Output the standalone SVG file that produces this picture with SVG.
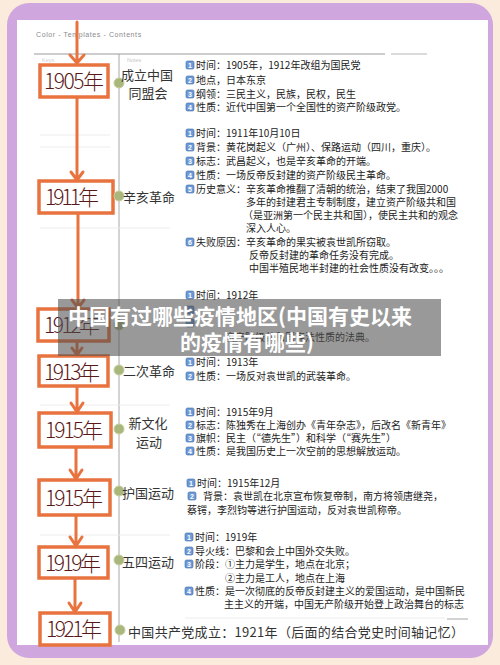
<svg xmlns="http://www.w3.org/2000/svg" width="500" height="665" viewBox="0 0 500 665">
<defs>
<style>
.cn{font-family:"Noto Sans CJK SC","Noto Sans",sans-serif}
.yr{font-family:"Noto Sans CJK SC","Liberation Sans",sans-serif;font-size:21px;font-weight:300;fill:#5a1818;text-anchor:middle}
.box{fill:#fff;stroke:#e8733f;stroke-width:3.5}
.key{font-family:"Noto Sans CJK SC",sans-serif;font-size:13px;fill:#333}
.nt{font-family:"Noto Sans CJK SC",sans-serif;font-size:10px;fill:#222}
.ic{fill:#6d9ad6;stroke:#3d6aa8;stroke-width:0.6}
.icn{font-family:"Liberation Sans",sans-serif;font-size:7px;font-weight:bold;fill:#fff;text-anchor:middle}
.dot{fill:#a9b67c;stroke:#c5cf9f;stroke-width:1}
.arr{fill:none;stroke:#e8733f;stroke-width:3;stroke-linecap:round;stroke-linejoin:round}
.faint{stroke:#ececec;stroke-width:1}
</style>
</defs>
<rect x="0" y="0" width="500" height="665" fill="#fbebdd"/>
<rect x="7" y="3" width="486" height="655" rx="22" fill="#cfa6de"/>
<rect x="17" y="20" width="471" height="625" fill="#ffffff"/>

<text x="36" y="37" font-family="Liberation Sans, sans-serif" font-size="7" letter-spacing="0.6" fill="#8a8a8a">Color - Templates - Contents</text>
<line x1="34" y1="54" x2="385" y2="54" stroke="#9a9a9a" stroke-width="1"/>
<line x1="391" y1="54" x2="427" y2="54" stroke="#b5b5b5" stroke-width="1"/>
<text x="42" y="61.5" font-family="Liberation Sans, sans-serif" font-size="5.5" fill="#d0d0d0">Keys</text>
<text x="127" y="61.5" font-family="Liberation Sans, sans-serif" font-size="5.5" fill="#c8c8c8">Notes</text>
<line x1="119" y1="54" x2="119" y2="642" stroke="#a8a8a8" stroke-width="1"/>

<g id="faint-lines">
<line class="faint" x1="40" y1="135" x2="110" y2="135"/>
<line class="faint" x1="40" y1="147" x2="110" y2="147"/>
<line class="faint" x1="40" y1="228" x2="170" y2="228"/>
<line class="faint" x1="40" y1="405" x2="170" y2="405"/>
<line class="faint" x1="40" y1="535" x2="170" y2="535"/>
<line class="faint" x1="185" y1="618" x2="445" y2="618"/>
<line x1="447" y1="619" x2="468" y2="619" stroke="#c4c4c4" stroke-width="1.5"/>
</g>

<g id="connectors">
<path class="arr" d="M77 22 V62 M70 55 L77 63 L84 55"/>
<path class="arr" d="M77 98 V179 M71 172 L77 180 L83 172"/>
<path class="arr" d="M78 214 V307 M72 300 L78 308 L84 300"/>
<path class="arr" d="M77 342 V354 M72 348 L77 355 L82 348"/>
<path class="arr" d="M77 387 V411 M71 403 L77 412 L83 403"/>
<path class="arr" d="M76 448 V478 M70 470 L76 479 L82 470"/>
<path class="arr" d="M76 516 V545 M70 537 L76 546 L82 537"/>
<path class="arr" d="M75 579 V611 M69 603 L75 612 L81 603"/>
</g>

<g id="n1905">
<rect class="box" x="40" y="65" width="68" height="32"/>
<text class="yr" x="74" y="89" textLength="60">1905年</text>
<circle class="dot" cx="119" cy="83" r="5"/>
<text class="key" x="147" y="80" text-anchor="middle">成立中国</text>
<text class="key" x="148" y="98" text-anchor="middle">同盟会</text>
<rect class="ic" x="186" y="61" width="8" height="8" rx="1.5"/><text class="icn" x="190" y="67.5">1</text>
<text class="nt" x="196" y="69">时间：1905年，1912年改组为国民党</text>
<rect class="ic" x="186" y="76" width="8" height="8" rx="1.5"/><text class="icn" x="190" y="82.5">2</text>
<text class="nt" x="196" y="84">地点，日本东京</text>
<rect class="ic" x="186" y="90" width="8" height="8" rx="1.5"/><text class="icn" x="190" y="96.5">3</text>
<text class="nt" x="196" y="98">纲领：三民主义，民族，民权，民生</text>
<rect class="ic" x="186" y="103" width="8" height="8" rx="1.5"/><text class="icn" x="190" y="109.5">4</text>
<text class="nt" x="196" y="111">性质：近代中国第一个全国性的资产阶级政党。</text>
</g>

<g id="n1911">
<rect class="box" x="39" y="181" width="74" height="32"/>
<text class="yr" x="72" y="205" textLength="54">1911年</text>
<circle class="dot" cx="119" cy="196" r="5"/>
<text class="key" x="123" y="202">辛亥革命</text>
<rect class="ic" x="186" y="129" width="8" height="8" rx="1.5"/><text class="icn" x="190" y="135.5">1</text>
<text class="nt" x="196" y="137">时间：1911年10月10日</text>
<rect class="ic" x="186" y="143" width="8" height="8" rx="1.5"/><text class="icn" x="190" y="149.5">2</text>
<text class="nt" x="196" y="151">背景：黄花岗起义（广州）、保路运动（四川，重庆）。</text>
<rect class="ic" x="186" y="157" width="8" height="8" rx="1.5"/><text class="icn" x="190" y="163.5">3</text>
<text class="nt" x="196" y="165">标志：武昌起义，也是辛亥革命的开端。</text>
<rect class="ic" x="186" y="171" width="8" height="8" rx="1.5"/><text class="icn" x="190" y="177.5">4</text>
<text class="nt" x="196" y="179">性质：一场反帝反封建的资产阶级民主革命。</text>
<rect class="ic" x="186" y="185" width="8" height="8" rx="1.5"/><text class="icn" x="190" y="191.5">5</text>
<text class="nt" x="196" y="193">历史意义：辛亥革命推翻了清朝的统治，结束了我国2000</text>
<text class="nt" x="246" y="206">多年的封建君主专制制度，建立资产阶级共和国</text>
<text class="nt" x="243" y="219">（是亚洲第一个民主共和国），使民主共和的观念</text>
<text class="nt" x="246" y="232">深入人心。</text>
<rect class="ic" x="186" y="238" width="8" height="8" rx="1.5"/><text class="icn" x="190" y="244.5">6</text>
<text class="nt" x="196" y="246">失败原因：辛亥革命的果实被袁世凯所窃取。</text>
<text class="nt" x="249" y="259">反帝反封建的革命任务没有完成。</text>
<text class="nt" x="249" y="272">中国半殖民地半封建的社会性质没有改变。。。</text>
</g>

<g id="n1912">
<rect class="box" x="38" y="309" width="71" height="32"/>
<text class="yr" x="72" y="333" textLength="56">1912年</text>
<circle class="dot" cx="119" cy="325" r="5"/>
<rect class="ic" x="186" y="291" width="8" height="8" rx="1.5"/><text class="icn" x="190" y="297.5">1</text>
<text class="nt" x="196" y="299">时间：1912年</text>
<rect class="ic" x="186" y="306" width="8" height="8" rx="1.5"/>
<rect class="ic" x="186" y="319" width="8" height="8" rx="1.5"/>
<text class="nt" x="225" y="341">资产阶级共和国宪法性质的法典。</text>
</g>

<g id="n1913">
<rect class="box" x="39" y="356" width="69" height="30"/>
<text class="yr" x="72" y="380" textLength="56">1913年</text>
<circle class="dot" cx="119" cy="370" r="5"/>
<text class="key" x="123" y="376">二次革命</text>
<rect class="ic" x="186" y="358" width="8" height="8" rx="1.5"/><text class="icn" x="190" y="364.5">1</text>
<text class="nt" x="196" y="366">时间：1913年</text>
<rect class="ic" x="186" y="372" width="8" height="8" rx="1.5"/><text class="icn" x="190" y="378.5">2</text>
<text class="nt" x="196" y="380">性质：一场反对袁世凯的武装革命。</text>
</g>

<g id="n1915a">
<rect class="box" x="39" y="413" width="72" height="34"/>
<text class="yr" x="74" y="438" textLength="58">1915年</text>
<circle class="dot" cx="119" cy="429" r="5"/>
<text class="key" x="148" y="428" text-anchor="middle">新文化</text>
<text class="key" x="149" y="447" text-anchor="middle">运动</text>
<rect class="ic" x="186" y="408" width="8" height="8" rx="1.5"/><text class="icn" x="190" y="414.5">1</text>
<text class="nt" x="196" y="416">时间：1915年9月</text>
<rect class="ic" x="186" y="421" width="8" height="8" rx="1.5"/><text class="icn" x="190" y="427.5">2</text>
<text class="nt" x="196" y="429">标志：陈独秀在上海创办《青年杂志》，后改名《新青年》</text>
<rect class="ic" x="186" y="434" width="8" height="8" rx="1.5"/><text class="icn" x="190" y="440.5">3</text>
<text class="nt" x="196" y="442">旗帜：民主（“德先生”）和科学（“赛先生”）</text>
<rect class="ic" x="186" y="447" width="8" height="8" rx="1.5"/><text class="icn" x="190" y="453.5">4</text>
<text class="nt" x="196" y="455">性质：是我国历史上一次空前的思想解放运动。</text>
</g>

<g id="n1915b">
<rect class="box" x="39" y="480" width="71" height="35"/>
<text class="yr" x="74" y="506" textLength="58">1915年</text>
<circle class="dot" cx="119" cy="491" r="5"/>
<text class="key" x="122" y="498">护国运动</text>
<rect class="ic" x="187" y="479" width="8" height="8" rx="1.5"/><text class="icn" x="191" y="485.5">1</text>
<text class="nt" x="197" y="487">时间：1915年12月</text>
<rect class="ic" x="188" y="492" width="8" height="8" rx="1.5"/><text class="icn" x="192" y="498.5">2</text>
<text class="nt" x="203" y="500">背景：袁世凯在北京宣布恢复帝制，南方将领唐继尧，</text>
<text class="nt" x="187" y="514">蔡锷，李烈钧等进行护国运动，反对袁世凯称帝。</text>
</g>

<g id="n1919">
<rect class="box" x="39" y="547" width="69" height="31"/>
<text class="yr" x="73" y="571" textLength="56">1919年</text>
<circle class="dot" cx="119" cy="560" r="5"/>
<text class="key" x="122" y="567">五四运动</text>
<rect class="ic" x="185" y="533" width="8" height="8" rx="1.5"/><text class="icn" x="189" y="539.5">1</text>
<text class="nt" x="195" y="541">时间：1919年</text>
<rect class="ic" x="185" y="547" width="8" height="8" rx="1.5"/><text class="icn" x="189" y="553.5">2</text>
<text class="nt" x="195" y="555">导火线：巴黎和会上中国外交失败。</text>
<rect class="ic" x="185" y="560" width="8" height="8" rx="1.5"/><text class="icn" x="189" y="566.5">3</text>
<text class="nt" x="195" y="568">阶段：①主力是学生，地点在北京；</text>
<text class="nt" x="225" y="582">②主力是工人，地点在上海</text>
<rect class="ic" x="185" y="587" width="8" height="8" rx="1.5"/><text class="icn" x="189" y="593.5">4</text>
<text class="nt" x="195" y="595">性质：是一次彻底的反帝反封建主义的爱国运动，是中国新民</text>
<text class="nt" x="224" y="608">主主义的开端，中国无产阶级开始登上政治舞台的标志</text>
</g>

<g id="n1921">
<rect class="box" x="40" y="613" width="70" height="32"/>
<text class="yr" x="74" y="637" textLength="56">1921年</text>
<circle class="dot" cx="120" cy="630" r="5"/>
<text class="key" x="128" y="637" font-size="13.5" textLength="336">中国共产党成立：1921年（后面的结合党史时间轴记忆）</text>
</g>

<g id="overlay">
<rect x="58" y="299" width="383" height="57" fill="#505050" opacity="0.58"/>
<text class="cn" x="240" y="324" font-size="21" font-weight="bold" fill="#ffffff" text-anchor="middle">中国有过哪些疫情地区(中国有史以来</text>
<text class="cn" x="247" y="350" font-size="21" font-weight="bold" fill="#ffffff" text-anchor="middle">的疫情有哪些)</text>
</g>
</svg>
